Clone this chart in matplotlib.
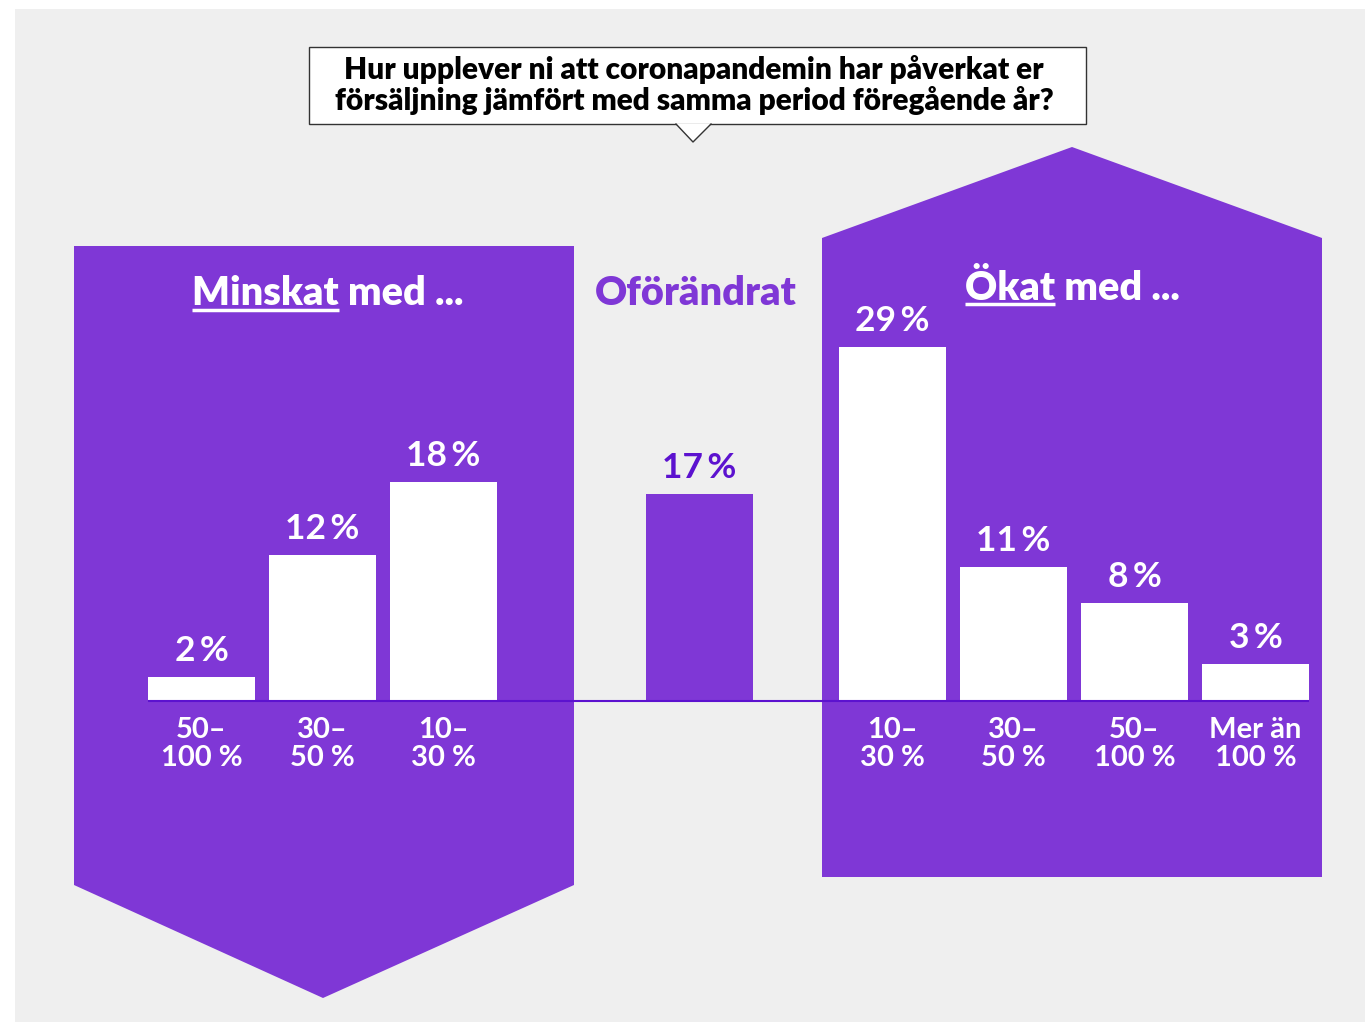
import matplotlib.pyplot as plt
from matplotlib.patches import Polygon, Rectangle

# data (percent of answers)
question = ('Hur upplever ni att coronapandemin har påverkat er\n'
            'försäljning jämfört med samma period föregående år?')
minskat_labels = ['50–\n100 %', '30–\n50 %', '10–\n30 %']
minskat_values = [2, 12, 18]
oforandrat_value = 17
okat_labels = ['10–\n30 %', '30–\n50 %', '50–\n100 %', 'Mer än\n100 %']
okat_values = [29, 11, 8, 3]

PURPLE = '#7f37d6'
DARK = '#5c12cf'
GREY = '#efefef'

plt.rcParams['font.family'] = ['Lato', 'DejaVu Sans']

W, H = 1365, 1024
fig = plt.figure(figsize=(W / 100, H / 100), dpi=100, facecolor='white')

# background layer, pixel units with y pointing down
bg = fig.add_axes([0, 0, 1, 1])
bg.set_xlim(0, W)
bg.set_ylim(H, 0)
bg.axis('off')
bg.add_patch(Rectangle((15, 9), W - 15, 1013, fc=GREY, ec='none'))
bg.add_patch(Polygon([(74, 246), (574, 246), (574, 885), (323, 998), (74, 885)],
                     closed=True, fc=PURPLE, ec='none'))
bg.add_patch(Polygon([(822, 238), (1072, 147), (1322, 238), (1322, 877), (822, 877)],
                     closed=True, fc=PURPLE, ec='none'))

# question box with pointer
bg.add_patch(Rectangle((309, 47), 777, 77, fc='white', ec='#333333', lw=1))
bg.add_patch(Polygon([(676, 123.5), (693, 142), (711, 123.5)], closed=True, fc='white', ec='none'))
bg.plot([676, 693, 711], [124, 142, 124], color='#333333', lw=1)
bg.text(694, 85, question, ha='center', va='center', fontsize=21.5,
        fontweight='heavy', color='black', linespacing=1.1)

# headers
fig.canvas.draw()
renderer = fig.canvas.get_renderer()
HFS = 28.5


def header(x, y, first, rest, color, underline_y):
    t = bg.text(x, y, first + rest, ha='center', va='baseline', fontsize=HFS,
                fontweight='heavy', color=color)
    if underline_y is None:
        return
    full = t.get_window_extent(renderer)
    tmp = bg.text(0, 0, first, fontsize=HFS, fontweight='heavy')
    w = tmp.get_window_extent(renderer).width
    tmp.remove()
    bg.plot([full.x0, full.x0 + w], [underline_y, underline_y], color=color, lw=2.5,
            solid_capstyle='butt')


header(328, 305, 'Minskat', ' med ...', 'white', 310)
header(696, 305, 'Oförändrat', '', PURPLE, None)
header(1072, 300, 'Ökat', ' med ...', 'white', 304)

# bar layer: y in percent, x in pixels
BASE = 701
PX_PER_PCT = 12.19
YMAX = 35
ax = fig.add_axes([0, (H - BASE) / H, 1, YMAX * PX_PER_PCT / H])
ax.set_xlim(0, W)
ax.set_ylim(0, YMAX)
ax.axis('off')
ax.patch.set_alpha(0)

step, width = 121, 107
x_min = [201.5 + i * step for i in range(len(minskat_values))]
x_okat = [892.5 + i * step for i in range(len(okat_values))]
x_mid = 699.5

ax.bar(x_min, minskat_values, width=width, color='white')
ax.bar(x_okat, okat_values, width=width, color='white')
ax.bar([x_mid], [oforandrat_value], width=width, color=PURPLE)
ax.plot([x_min[0] - width / 2, x_okat[-1] + width / 2], [0, 0], color=DARK, lw=1.5,
        solid_capstyle='butt', clip_on=False)


def value_label(x, v, color):
    ax.annotate(f'{v}\u2009%', (x, v), xytext=(0, 26), textcoords='offset pixels',
                ha='center', va='center', fontsize=25.5, fontweight='bold', color=color,
                annotation_clip=False)


for x, v in zip(x_min, minskat_values):
    value_label(x, v, 'white')
for x, v in zip(x_okat, okat_values):
    value_label(x, v, 'white')
value_label(x_mid, oforandrat_value, DARK)

for x, lab in zip(x_min + x_okat, minskat_labels + okat_labels):
    ax.annotate(lab, (x, 0), xytext=(0, -43), textcoords='offset pixels',
                ha='center', va='center', fontsize=21, fontweight='bold',
                color='white', linespacing=1.1, annotation_clip=False)

fig.savefig('out.png', dpi=100, facecolor='white')
